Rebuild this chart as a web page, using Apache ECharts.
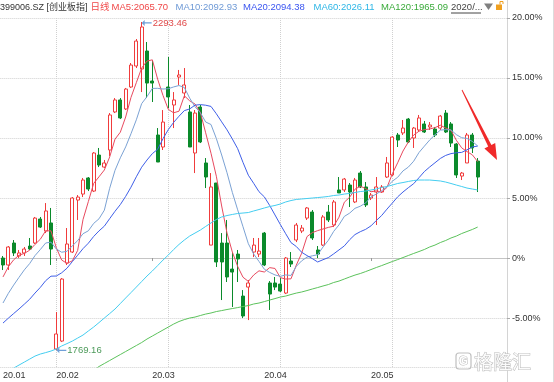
<!DOCTYPE html>
<html><head><meta charset="utf-8">
<script src="https://cdn.jsdelivr.net/npm/echarts@6/dist/echarts.min.js"></script>
<style>html,body{margin:0;padding:0;background:#fff}#c{width:554px;height:382px}</style>
</head><body><div id="c"></div>
<script>
// trading days (2020), values in % change vs. base close
const dates = ['01-10','01-13','01-14','01-15','01-16','01-17','01-20','01-21','01-22','01-23',
'02-03','02-04','02-05','02-06','02-07','02-10','02-11','02-12','02-13','02-14','02-17','02-18','02-19','02-20','02-21','02-24','02-25','02-26','02-27','02-28',
'03-02','03-03','03-04','03-05','03-06','03-09','03-10','03-11','03-12','03-13','03-16','03-17','03-18','03-19','03-20','03-23','03-24','03-25','03-26','03-27','03-30','03-31',
'04-01','04-02','04-03','04-07','04-08','04-09','04-10','04-13','04-14','04-15','04-16','04-17','04-20','04-21','04-22','04-23','04-24','04-27','04-28','04-29','04-30',
'05-06','05-07','05-08','05-11','05-12','05-13','05-14','05-15','05-18','05-19','05-20','05-21','05-22','05-25','05-26','05-27','05-28'];
const padSlots = ['p1','p2','p3','p4','p5'];
const opens = [0.00,-0.58,1.25,0.17,0.42,1.00,1.25,3.25,2.25,2.92,
-7.58,-6.92,-0.42,0.50,4.83,5.33,6.67,5.58,8.58,7.58,
9.00,12.17,13.17,12.42,14.25,16.00,15.75,17.25,14.75,10.25,
9.25,14.25,12.75,15.08,13.75,12.17,8.75,12.58,7.92,1.08,
6.25,1.25,1.25,-0.92,0.33,-3.17,-2.42,0.50,0.33,2.08,
-2.08,-2.08,-2.17,-2.92,-0.25,1.50,2.25,3.33,3.83,0.67,
1.08,3.83,2.75,5.67,5.67,6.08,4.67,7.08,5.92,5.00,
5.50,5.50,6.75,6.92,10.25,10.42,11.58,10.00,10.67,11.17,
10.92,10.75,10.83,12.08,11.17,9.50,6.83,7.92,10.25,8.08];
const closes = [-0.58,0.92,0.42,0.42,0.75,0.75,3.33,2.58,3.92,0.75,
-6.33,-1.75,1.17,5.00,5.08,6.50,5.75,8.75,7.75,7.92,
11.92,13.17,11.67,14.08,16.08,18.08,19.25,14.58,14.58,8.00,
11.33,13.42,13.17,15.25,14.42,9.25,12.08,9.67,6.75,5.92,
-0.33,-0.33,-1.58,-1.17,-0.08,-4.83,-2.08,1.08,0.58,-0.58,
-3.00,-2.42,-2.75,0.00,-0.50,2.75,2.50,4.17,1.67,0.33,
3.42,3.17,4.67,5.42,6.58,5.50,6.50,5.92,4.42,5.25,
5.92,5.92,7.92,10.08,9.83,10.83,9.67,10.83,11.67,10.50,
11.08,10.25,11.83,10.50,9.58,6.92,7.08,10.25,9.17,6.75];
const lows = [-1.00,-1.00,0.17,0.00,0.17,0.67,1.17,2.50,2.08,-0.58,
-7.688,-7.00,-0.58,0.42,3.17,5.08,5.58,5.50,7.58,7.50,
8.50,12.08,11.58,12.33,14.17,15.83,13.83,13.33,13.00,8.00,
9.00,12.50,10.83,14.42,13.33,9.25,7.08,9.58,5.83,1.08,
-0.75,-3.50,-2.00,-4.08,-2.00,-5.00,-5.17,0.08,0.08,-0.67,
-4.33,-2.67,-2.83,-3.00,-0.75,1.33,2.08,3.17,1.50,0.00,
1.00,3.00,2.58,5.42,5.50,4.25,4.58,5.83,4.25,4.83,
2.75,5.42,6.67,6.83,9.25,10.25,9.58,9.17,10.50,10.42,
10.67,10.08,10.67,10.42,9.25,6.67,6.50,7.92,8.75,5.50];
const highs = [0.17,1.00,1.50,0.67,0.92,1.67,3.42,3.42,4.58,4.17,
-4.50,-1.67,2.50,5.08,5.25,6.67,6.75,8.83,9.17,8.17,
12.08,13.33,13.33,14.17,16.25,18.25,19.6692,18.00,16.50,10.83,
12.33,16.75,13.83,15.67,15.83,12.75,12.33,12.75,8.33,7.08,
6.25,2.08,3.17,0.42,0.67,-2.67,-1.83,1.67,1.67,2.17,
-1.92,-1.58,-1.67,0.08,0.50,2.92,2.75,4.25,4.00,1.00,
3.58,4.42,4.83,6.75,6.67,6.25,6.67,7.25,6.33,5.42,
6.75,6.08,8.42,10.17,10.42,11.50,11.67,10.92,11.92,11.42,
11.33,10.92,11.92,12.33,11.33,9.58,7.17,10.42,10.42,8.33];
// closes before the first visible day (needed for MA5/10/20)
const priorCloses = [-7.2,-7.3,-7.2,-7.3,-7.4,-7.0,-6.9,-7.2,-6.8,-6.6,-7.1,-6.5,-6.0,-5.5,-4.5,-3.3,-2.5,-1.5,0.0];
// long moving averages
const ma60 = [-9.67,-9.42,-9.17,-8.92,-8.67,-8.42,-8.17,-8.00,-7.88,-7.75,
-7.58,-7.33,-7.13,-6.92,-6.67,-6.42,-6.08,-5.75,-5.38,-5.00,
-4.63,-4.25,-3.79,-3.33,-2.88,-2.42,-1.96,-1.50,-1.08,-0.63,
-0.17,0.25,0.71,1.13,1.50,1.83,2.08,2.33,2.63,2.92,
3.21,3.42,3.54,3.63,3.71,3.75,3.79,3.92,4.04,4.17,
4.29,4.38,4.50,4.67,4.79,4.88,4.92,4.96,5.00,5.04,
5.08,5.13,5.21,5.25,5.33,5.38,5.46,5.54,5.58,5.67,
5.75,5.88,5.96,6.08,6.21,6.29,6.38,6.46,6.50,6.50,
6.50,6.46,6.42,6.33,6.21,6.08,5.96,5.83,5.75,5.67];
const ma120 = [-13.58,-13.33,-13.08,-12.83,-12.58,-12.33,-12.08,-11.83,-11.58,-11.33,
-11.08,-10.83,-10.58,-10.33,-10.08,-9.83,-9.58,-9.33,-9.04,-8.79,
-8.54,-8.29,-8.04,-7.79,-7.54,-7.29,-7.04,-6.75,-6.50,-6.25,
-6.00,-5.75,-5.50,-5.29,-5.13,-5.00,-4.92,-4.79,-4.67,-4.58,
-4.46,-4.38,-4.29,-4.21,-4.13,-4.04,-3.96,-3.83,-3.75,-3.63,
-3.50,-3.38,-3.25,-3.17,-3.04,-2.92,-2.83,-2.71,-2.58,-2.46,
-2.33,-2.21,-2.04,-1.92,-1.75,-1.58,-1.42,-1.29,-1.13,-0.96,
-0.79,-0.63,-0.46,-0.29,-0.13,0.04,0.21,0.38,0.54,0.71,
0.92,1.08,1.29,1.46,1.67,1.83,2.04,2.21,2.38,2.58];
const basePrice = 1916.5;
const headerMA = [['MA5','2065.70','#f04848'],['MA10','2092.93','#6f9ad6'],['MA20','2094.38','#3a55f0'],['MA60','2026.11','#2eb6e6'],['MA120','1965.09','#3aaa3a']];
const monthLabels = {'01-10':'20.01','02-03':'20.02','02-27':'20.03','03-27':'20.04','04-27':'20.05'};
const gridDates = ['02-03','03-03','04-01','05-06'];
const yMin = -9.08, yMax = 20;

const cats = dates.concat(padSlots);
const kData = dates.map((d,i)=>[opens[i],closes[i],lows[i],highs[i]]);
const allCloses = priorCloses.concat(closes);
function ma(n){
  const P = priorCloses.length;
  return closes.map((c,i)=>{
    let s=0; for(let k=0;k<n;k++) s+=allCloses[i+P-k];
    return +(s/n).toFixed(3);
  });
}
const ma5 = ma(5), ma10 = ma(10), ma20 = ma(20);
const toPrice = v => (basePrice*(1+v/100)).toFixed(2);

const latin = '"Liberation Sans Narrow","Liberation Sans","Noto Sans CJK SC",sans-serif';
const hdrX = [111.5,175.5,243,313.5,381];
const graphics = [
  {type:'text', x:0, y:7.5, style:{text:'399006.SZ [创业板指]', fill:'#333', font:'9px '+latin, verticalAlign:'middle'}},
  {type:'text', x:90.5, y:7.5, style:{text:'日线', fill:'#f04848', font:'9.5px '+latin, verticalAlign:'middle'}},
  {type:'text', x:451, y:7.5, style:{text:'2020/...', fill:'#444', font:'9.5px '+latin, verticalAlign:'middle'}},
  {type:'line', shape:{x1:451,y1:13,x2:481,y2:13}, style:{stroke:'#444', lineWidth:1}},
  {type:'polygon', shape:{points:[[484,3.5],[493,3.5],[488.5,10]]}, style:{fill:'#808080'}},
  {type:'rect', shape:{x:496,y:4.5,width:6,height:5.5}, style:{fill:'#f0a020'}},
  {type:'polyline', shape:{points:[[500,4.5],[500,1.5],[503,1.5],[503,4]]}, style:{stroke:'#f0a020', lineWidth:1, fill:null}},
  {type:'line', shape:{x1:507.5,y1:0,x2:507.5,y2:382}, style:{stroke:'#d4d4d4', lineWidth:1}},
  {type:'line', shape:{x1:553.5,y1:0,x2:553.5,y2:382}, style:{stroke:'#dcdcdc', lineWidth:1}},
  {type:'polygon', shape:{points:[[462.4,89.8],[491.4,144.9],[495.2,143.0],[497,160],[484.4,148.4],[488.2,146.5],[461.6,90.2]]}, style:{fill:'#f02a2a'}, z:100},
  {type:'rect', shape:{x:456,y:353,width:15,height:16,r:3}, style:{fill:'rgba(255,255,255,0.6)', stroke:'#c0c0c0', lineWidth:1.2}, z:100},
  {type:'text', x:463.5, y:361.5, style:{text:'G', fill:'#fff', stroke:'#b8b8b8', lineWidth:1, font:'bold 12px "Liberation Sans"', align:'center', verticalAlign:'middle'}, z:101},
  {type:'text', x:474, y:361.5, style:{text:'格隆汇', fill:'rgba(255,255,255,0.9)', stroke:'#bcbcbc', lineWidth:1, font:'19px "Noto Sans CJK SC"', verticalAlign:'middle'}, z:101}
];
headerMA.forEach((m,i)=>{
  graphics.push({type:'text', x:hdrX[i], y:7.5, style:{text:m[0]+':'+m[1], fill:m[2], font:'9.5px '+latin, verticalAlign:'middle'}});
});

const arrowPath = 'path://M0,3L3,0.5L3,2.5L10,2.5L10,3.5L3,3.5L3,5.5Z';
const chart = echarts.init(document.getElementById('c'), null, {renderer:'canvas'});
chart.setOption({
  animation:false,
  backgroundColor:'#fff',
  grid:{left:0, right:47, top:18, bottom:15, containLabel:false},
  xAxis:{
    type:'category', data:cats, boundaryGap:true,
    axisLine:{lineStyle:{color:'#c4c4c4'}},
    axisTick:{show:true, alignWithLabel:true, length:3, interval:(i,v)=>!!monthLabels[v], lineStyle:{color:'#999'}},
    axisLabel:{interval:(i,v)=>!!monthLabels[v], formatter:v=>monthLabels[v]||'', align:'left', color:'#333', fontSize:9, fontFamily:'"Liberation Sans",sans-serif', margin:4},
    splitLine:{show:true, alignWithLabel:true, interval:(i,v)=>gridDates.indexOf(v)>=0, lineStyle:{type:'dotted', color:'#d0d0d0'}}
  },
  yAxis:{
    type:'value', position:'right', min:yMin, max:yMax, splitNumber:6,
    axisLine:{show:false},
    axisTick:{show:true, length:3, lineStyle:{color:'#aaa'}},
    axisLabel:{showMinLabel:false, color:'#333', fontSize:9, fontFamily:'"Liberation Sans",sans-serif', margin:5,
      formatter:v=>Math.abs(v%5)>1e-6?'':(v===0?'0%':v.toFixed(2)+'%')},
    splitLine:{lineStyle:{type:'dotted', color:'#d0d0d0'}}
  },
  series:[
    {type:'candlestick', name:'K', data:kData, barWidth:3.6,
     itemStyle:{color:'#ffffff', color0:'#0b8a2b', borderColor:'#f03c3c', borderColor0:'#0b8a2b', borderWidth:1},
     markPoint:{
       symbol:arrowPath, symbolSize:[10,6], symbolKeepAspect:false,
       label:{show:true, position:'right', distance:1, fontSize:9.5, fontFamily:'"Liberation Sans",sans-serif'},
       data:[
         {type:'max', valueDim:'highest', symbolOffset:[5,1], itemStyle:{color:'#6fa0d8'}, label:{color:'#e04848', formatter:p=>toPrice(p.value)}},
         {type:'min', valueDim:'lowest', symbolOffset:[5,0], itemStyle:{color:'#6fa0d8'}, label:{color:'#4c9a5a', formatter:p=>toPrice(p.value)}}
       ]
     }},
    {type:'line', name:'MA5', data:ma5, symbol:'none', lineStyle:{width:1, color:'#e84a5f'}},
    {type:'line', name:'MA10', data:ma10, symbol:'none', lineStyle:{width:1, color:'#7ba2d4'}},
    {type:'line', name:'MA20', data:ma20, symbol:'none', lineStyle:{width:1, color:'#3f5fe8'}},
    {type:'line', name:'MA60', data:ma60, symbol:'none', lineStyle:{width:1, color:'#44cdf0'}},
    {type:'line', name:'MA120', data:ma120, symbol:'none', lineStyle:{width:1, color:'#5cc25c'}}
  ],
  graphic:graphics
});
</script></body></html>
